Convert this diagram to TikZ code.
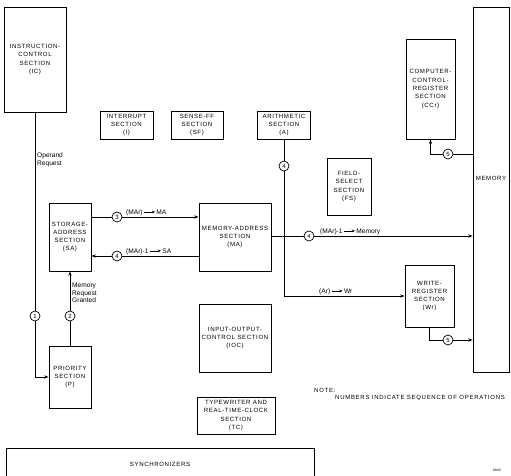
\documentclass[tikz,border=0pt]{standalone}
\usepackage{fontspec}
\setmainfont{Liberation Sans}
\newfontfamily\lsp[LetterSpace=10]{Liberation Sans}
\newfontfamily\lspw[LetterSpace=12]{Liberation Sans}
\usetikzlibrary{arrows.meta}
\newcommand{\tarrow}{\tikz[baseline=-0.6ex]\draw[line width=0.6pt,-{Stealth[length=3.2pt,width=2.8pt]}] (0pt,0pt)--(11pt,0pt);}
\begin{document}
\begin{tikzpicture}[x=1pt,y=-1pt,
 box/.style={draw, line width=0.8pt, inner sep=0pt, align=center, font=\lsp\fontsize{6.1}{8.3}\selectfont},
 num/.style={draw, circle, fill=white, line width=0.7pt, inner sep=0pt, minimum size=10pt, font=\fontsize{6}{6}\selectfont},
 lbl/.style={inner sep=0pt, font=\fontsize{6.6}{7.6}\selectfont, align=left},
 conn/.style={line width=0.75pt},
 arr/.style={conn, -{Stealth[length=4.5pt,width=3.2pt]}}]
\clip (0,0) rectangle (511,476);
\fill[white] (0,0) rectangle (511,476);

% boxes
\node[box, minimum width=62pt, minimum height=105pt] (ic) at (35,59.5) {INSTRUCTION-\\CONTROL\\SECTION\\(IC)};
\node[box, minimum width=53pt, minimum height=28pt] (int) at (126.5,125) {INTERRUPT\\SECTION\\(I)};
\node[box, minimum width=52pt, minimum height=28pt] (sf) at (197,125) {SENSE-FF\\SECTION\\(SF)};
\node[box, minimum width=53pt, minimum height=28pt] (ar) at (284,125) {ARITHMETIC\\SECTION\\(A)};
\node[box, minimum width=44pt, minimum height=57pt] (fs) at (349,186.5) {FIELD-\\SELECT\\SECTION\\(FS)};
\node[box, minimum width=49pt, minimum height=100pt] (ccr) at (430.5,89) {COMPUTER-\\CONTROL-\\REGISTER\\SECTION\\(CCr)};
\node[box, minimum width=36pt, minimum height=365pt] (mem) at (491,189.5) {\raisebox{22pt}{MEMORY}};
\node[box, minimum width=42pt, minimum height=68pt] (sa) at (70,237) {STORAGE-\\ADDRESS\\SECTION\\(SA)};
\node[box, minimum width=72pt, minimum height=68pt] (ma) at (235,237) {MEMORY-ADDRESS\\SECTION\\(MA)};
\node[box, minimum width=42pt, minimum height=62pt] (p) at (70,377) {PRIORITY\\SECTION\\(P)};
\node[box, minimum width=72pt, minimum height=68pt] (ioc) at (235,338) {INPUT-OUTPUT-\\CONTROL SECTION\\(IOC)};
\node[box, minimum width=49pt, minimum height=62pt] (wr) at (429.5,296) {WRITE-\\REGISTER\\SECTION\\(Wr)};
\node[box, minimum width=78pt, minimum height=37pt] (tc) at (236,415.5) {TYPEWRITER AND\\REAL-TIME-CLOCK\\SECTION\\(TC)};
\node[box, minimum width=308pt, minimum height=32pt] (sync) at (160,464) {SYNCHRONIZERS};

% sequence numbers
\node[num] (n1) at (35,316) {1};
\node[num] (n2) at (70,316) {2};
\node[num] (n3) at (117,217) {3};
\node[num] (n4a) at (117,256) {4};
\node[num] (n4b) at (309,236) {4};
\node[num] (n4c) at (284,166) {4};
\node[num] (n5a) at (448,154) {5};
\node[num] (n5b) at (448,340) {5};

% connectors
\draw[conn] (ic.south) -- (n1);
\draw[arr] (n1) |- (p.west);
\draw[conn] (p.north) -- (n2);
\draw[arr] (n2) -- (sa.south);
\draw[conn] (sa.east |- n3) -- (n3);
\draw[arr] (n3) -- (ma.west |- n3);
\draw[conn] (ma.west |- n4a) -- (n4a);
\draw[arr] (n4a) -- (sa.east |- n4a);
\draw[conn] (ma.east |- n4b) -- (n4b);
\draw[arr] (n4b) -- (mem.west |- n4b);
\draw[conn] (ar.south) -- (n4c);
\draw[arr] (n4c) |- (wr.west);
\draw[conn] (wr.south) |- (n5b);
\draw[arr] (n5b) -- (mem.west |- n5b);
\draw[conn] (mem.west |- n5a) -- (n5a);
\draw[arr] (n5a) -| (ccr.south);

% labels
\node[lbl, anchor=north west] (lop) at (37,153) {Operand\\Request};
\node[lbl, anchor=west] (lmr) at (72,293) {Memory\\Request\\Granted};
\node[lbl, anchor=base west] (l3) at (126,214) {(MAr)\,\tarrow\,MA};
\node[lbl, anchor=base west] (l4a) at (126,253) {(MAr)-1\,\tarrow\,SA};
\node[lbl, anchor=base west] (l4b) at (320,233) {(MAr)-1\,\tarrow\,Memory};
\node[lbl, anchor=base west] (l6) at (319,293) {(Ar)\,\tarrow\,Wr};
\node[lbl, anchor=west, font=\lspw\fontsize{6}{7}\selectfont] (note) at (314,390) {NOTE:};
\node[lbl, anchor=west, font=\lspw\fontsize{6}{7}\selectfont] (notetxt) at (335,398) {NUMBERS INDICATE SEQUENCE OF OPERATIONS};
\node[lbl, anchor=center, font=\fontsize{3.5}{4}\selectfont] (fig) at (497,470) {6843};
\end{tikzpicture}
\end{document}
